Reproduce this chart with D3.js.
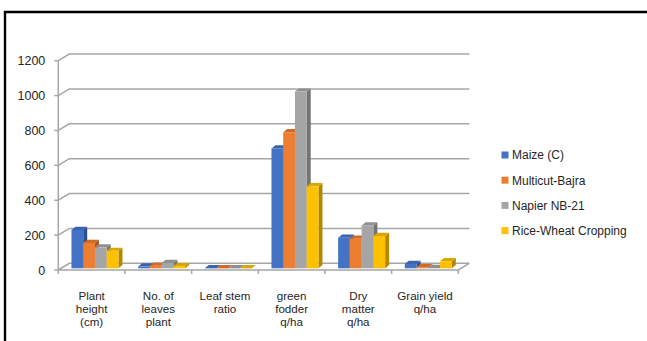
<!DOCTYPE html>
<html>
<head>
<meta charset="utf-8">
<script src="https://cdn.jsdelivr.net/npm/d3@7"></script>
<style>
  html, body { margin: 0; padding: 0; background: #fff; }
  svg { display: block; }
  text { font-family: "Liberation Sans", Arial, sans-serif; fill: #262626; }
</style>
</head>
<body>
<svg id="chart" width="647" height="341"></svg>
<script>
// Crop parameters compared across four cropping systems
const categories = [
  ["Plant", "height", "(cm)"],
  ["No. of", "leaves", "plant"],
  ["Leaf stem", "ratio"],
  ["green", "fodder", "q/ha"],
  ["Dry", "matter", "q/ha"],
  ["Grain yield", "q/ha"]
];
const seriesNames = ["Maize (C)", "Multicut-Bajra", "Napier NB-21", "Rice-Wheat Cropping"];
const maize      = [220, 10, 1, 687, 175, 25];
const bajra      = [145, 15, 1, 780, 170, 6];
const napier     = [120, 30, 1, 1013, 246, 2];
const riceWheat  = [100, 12, 1, 470, 185, 40];
const yTicks = [0, 200, 400, 600, 800, 1000, 1200];

const seriesValues = [maize, bajra, napier, riceWheat];
const colors = {
  front: ["#4472C4", "#ED7D31", "#A5A5A5", "#FFC000"],
  side:  ["#2E4F8C", "#A8561F", "#747474", "#B38700"],
  top:   ["#3A64B0", "#D06A27", "#8F8F8F", "#DCA600"]
};

const svg = d3.select("#chart");

// Frame (top and left edges)
svg.append("line").attr("x1", 4).attr("x2", 647).attr("y1", 12).attr("y2", 12)
  .attr("stroke", "#000").attr("stroke-width", 2.4);
svg.append("line").attr("x1", 5).attr("x2", 5).attr("y1", 11).attr("y2", 341)
  .attr("stroke", "#000").attr("stroke-width", 2.4);

// Plot geometry: front plane and depth offset of the back wall
const x0 = 58.3, x1 = 458.3;
const depthX = 11, depthY = -6.7;
const y = d3.scaleLinear().domain([0, 1200]).range([270, 60.7]);
const x = d3.scaleBand().domain(d3.range(categories.length)).range([x0, x1]).padding(0);
const bw = x.bandwidth();
const xs = d3.scaleBand().domain(d3.range(seriesNames.length)).range([0, bw * 0.705]).padding(0);

const grid = svg.append("g").attr("stroke", "#A6A6A6").attr("stroke-width", 1.5).attr("fill", "none");

// Back wall gridlines plus side-wall diagonals
yTicks.forEach(t => {
  const yf = y(t);
  grid.append("path")
    .attr("d", `M${x0},${yf} L${x0 + depthX},${yf + depthY} L${x1 + depthX},${yf + depthY}`);
  // tick mark on the value axis
  grid.append("line").attr("x1", x0 - 4).attr("x2", x0).attr("y1", yf).attr("y2", yf);
});
// Value axis
grid.append("line").attr("x1", x0).attr("x2", x0).attr("y1", y(1200)).attr("y2", y(0));
// Floor front edge and right edge
grid.append("path")
  .attr("d", `M${x0},${y(0)} L${x1},${y(0)} L${x1 + depthX},${y(0) + depthY}`);
// Category tick marks
d3.range(categories.length + 1).forEach(i => {
  const xx = x0 + i * bw;
  grid.append("line").attr("x1", xx).attr("x2", xx).attr("y1", y(0)).attr("y2", y(0) + 4);
});

// Value axis labels
svg.append("g").selectAll("text").data(yTicks).join("text")
  .attr("x", x0 - 13).attr("y", d => y(d)).attr("dy", "0.36em")
  .attr("text-anchor", "end").attr("font-size", 12.5).text(d => d);

// Bars drawn at mid depth
const midX = 1.5, midY = -1.7;
const capX = 4, capY = -3.2;
const bars = svg.append("g");
categories.forEach((c, ci) => {
  seriesValues.forEach((vals, si) => {
    const v = vals[ci];
    const left = x(ci) + bw * 0.175 + xs(si) + midX;
    const w = xs.bandwidth();
    const top = y(v) + midY;
    const base = y(0) + midY;
    const g = bars.append("g");
    // side face
    g.append("path")
      .attr("d", `M${left + w},${base} L${left + w + capX},${base + capY} L${left + w + capX},${top + capY} L${left + w},${top} Z`)
      .attr("fill", colors.side[si]);
    // top face
    g.append("path")
      .attr("d", `M${left},${top} L${left + capX},${top + capY} L${left + w + capX},${top + capY} L${left + w},${top} Z`)
      .attr("fill", colors.top[si]);
    // front face
    g.append("rect")
      .attr("x", left).attr("y", top).attr("width", w).attr("height", Math.max(0, base - top))
      .attr("fill", colors.front[si]);
  });
});

// Category labels, one text per line
const catG = svg.append("g");
categories.forEach((lines, ci) => {
  lines.forEach((ln, li) => {
    catG.append("text")
      .attr("x", x(ci) + bw / 2).attr("y", 299.5 + li * 13.4)
      .attr("text-anchor", "middle").attr("font-size", 11.6).text(ln);
  });
});

// Legend
const legend = svg.append("g");
seriesNames.forEach((name, si) => {
  const ly = 155 + si * 25.2;
  legend.append("rect").attr("x", 501.5).attr("y", ly - 3.5).attr("width", 7).attr("height", 7)
    .attr("fill", colors.front[si]);
  legend.append("text").attr("x", 512).attr("y", ly).attr("dy", "0.36em")
    .attr("font-size", 12).text(name);
});
</script>
</body>
</html>
